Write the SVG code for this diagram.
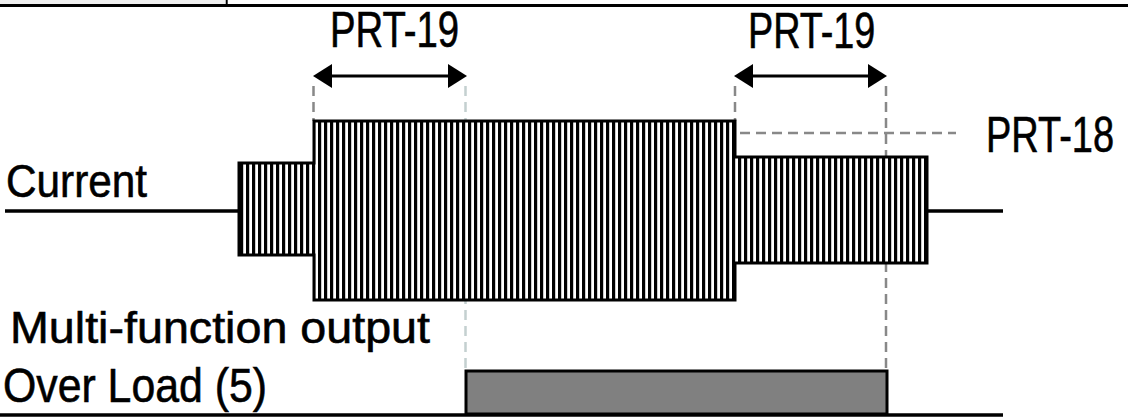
<svg xmlns="http://www.w3.org/2000/svg" width="1128" height="417" viewBox="0 0 1128 417">
<style>
.t{font-family:"Liberation Sans",Arial,sans-serif;fill:#000;stroke:#000;stroke-width:0.6}
.dash{fill:none;stroke:#888;stroke-width:2.5;stroke-dasharray:10,6}
.dashl{fill:none;stroke:#c4d0d0;stroke-width:2.5;stroke-dasharray:10,6}
.base{fill:none;stroke:#000;stroke-width:3.5}
.arr{fill:none;stroke:#000;stroke-width:3;marker-start:url(#ah);marker-end:url(#ah)}
</style>
<defs>
<pattern id="hatch" patternUnits="userSpaceOnUse" x="0" y="0" width="6" height="10">
<rect width="6" height="10" fill="#fff"/>
<rect x="0" width="3.2" height="10" fill="#000"/>
</pattern>
<marker id="ah" markerUnits="userSpaceOnUse" markerWidth="20" markerHeight="24" refX="9" refY="12" orient="auto-start-reverse" viewBox="0 0 20 24">
<path d="M0,0 L19,12 L0,24 Z" fill="#000"/>
</marker>
</defs>
<g id="header">
<rect x="0" y="0" width="225" height="4" fill="#efefef"/>
<line x1="0" y1="5.5" x2="1128" y2="5.5" stroke="#000" stroke-width="3"/>
<line x1="226.7" y1="0" x2="226.7" y2="5" stroke="#000" stroke-width="2"/>
</g>
<g id="connectors">
<line class="dash" x1="313.5" y1="86" x2="313.5" y2="121"/>
<line class="dashl" x1="465.5" y1="86" x2="465.5" y2="371"/>
<line class="dash" x1="735" y1="86" x2="735" y2="121"/>
<line class="dash" x1="886" y1="86" x2="886" y2="371"/>
<line class="dash" x1="740" y1="133" x2="956" y2="133"/>
<line class="arr" x1="323" y1="76" x2="457" y2="76"/>
<line class="arr" x1="744" y1="76" x2="877" y2="76"/>
</g>
<g id="labels">
<text class="t" transform="translate(330,47) scale(0.766,1)" font-size="50">PRT-19</text>
<text class="t" transform="translate(748,48) scale(0.755,1)" font-size="50">PRT-19</text>
<text class="t" transform="translate(986,152) scale(0.76,1)" font-size="50">PRT-18</text>
</g>
<g id="current">
<line class="base" x1="5" y1="211" x2="240" y2="211"/>
<line class="base" x1="926" y1="211" x2="1003" y2="211"/>
<path d="M239,163 H314 V121 H735 V157 H927 V263 H735 V300 H314 V255 H239 Z" fill="url(#hatch)" stroke="#000" stroke-width="3"/>
<text class="t" x="6" y="197" font-size="47" textLength="141" lengthAdjust="spacingAndGlyphs">Current</text>
</g>
<g id="overload">
<text class="t" x="10" y="343" font-size="45" textLength="420" lengthAdjust="spacingAndGlyphs">Multi-function output</text>
<text class="t" x="3" y="402" font-size="48" textLength="264" lengthAdjust="spacingAndGlyphs">Over Load (5)</text>
<rect x="466" y="371" width="421" height="43" fill="#808080" stroke="#000" stroke-width="3"/>
<line class="base" x1="0" y1="415" x2="1003" y2="415"/>
</g>
</svg>
